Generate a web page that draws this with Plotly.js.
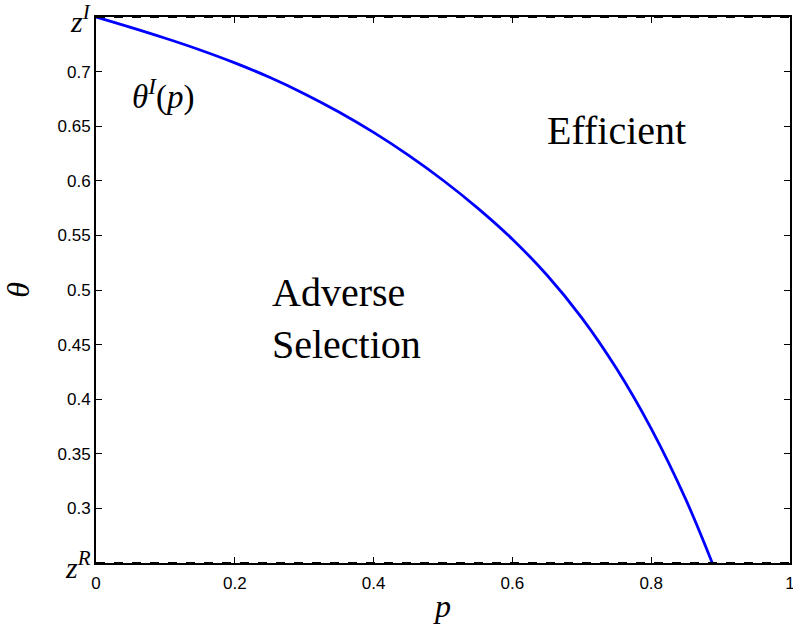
<!DOCTYPE html>
<html>
<head>
<meta charset="utf-8">
<script src="https://cdn.plot.ly/plotly-3.0.1.min.js"></script>
<style>html,body{margin:0;padding:0;background:#fff;}#chart{width:793px;height:628px;}</style>
</head>
<body>
<div id="chart"></div>
<script>
// Curve theta^I(p)
const pValues = [0, 0.05, 0.10, 0.15, 0.20, 0.25, 0.30, 0.35, 0.40, 0.45, 0.50, 0.55, 0.60, 0.65, 0.70, 0.75, 0.80, 0.85, 0.888];
const thetaValues = [0.75, 0.7405, 0.7305, 0.7198, 0.708, 0.6948, 0.6798, 0.663, 0.6443, 0.6235, 0.6005, 0.575, 0.5465, 0.5135, 0.4745, 0.428, 0.373, 0.308, 0.25];
// Reference levels (dashed lines) z^R and z^I
const zLevels = [0.25, 0.75];
const zLabels = ['<i>z</i><sup><i>R</i></sup>', '<i>z</i><sup><i>I</i></sup>'];
// Ticks
const xTickVals = [0, 0.2, 0.4, 0.6, 0.8, 1];
const xTickText = ['0', '0.2', '0.4', '0.6', '0.8', '1'];
const yTickVals = [0.3, 0.35, 0.4, 0.45, 0.5, 0.55, 0.6, 0.65, 0.7];
const yTickText = ['0.3', '0.35', '0.4', '0.45', '0.5', '0.55', '0.6', '0.65', '0.7'];

const serif = 'Liberation Serif, DejaVu Serif, serif';
const sans = 'Liberation Sans, Arial, sans-serif';

const traces = [{
  x: pValues, y: thetaValues, type: 'scatter', mode: 'lines',
  line: {color: '#0000ff', width: 2.8, shape: 'spline', smoothing: 1},
  hoverinfo: 'skip', showlegend: false
}];

const shapes = zLevels.map(z => ({
  type: 'line', xref: 'paper', yref: 'y', x0: 0, x1: 1, y0: z, y1: z,
  line: {color: '#000', width: 2, dash: 'dash'}, layer: 'above'
}));

const annotations = [
  {x: 0.049, y: 0.679, xref: 'x', yref: 'y', text: '<i>θ</i><sup><i>I</i></sup>(<i>p</i>)', showarrow: false,
   xanchor: 'left', yanchor: 'middle', font: {family: serif, size: 33, color: '#000'}},
  {x: 0.25, y: 0.474, xref: 'x', yref: 'y', text: 'Adverse<br>Selection', showarrow: false, align: 'left',
   xanchor: 'left', yanchor: 'middle', font: {family: serif, size: 40, color: '#000'}},
  {x: 0.647, y: 0.6465, xref: 'x', yref: 'y', text: 'Efficient', showarrow: false,
   xanchor: 'left', yanchor: 'middle', font: {family: serif, size: 40, color: '#000'}}
].concat(zLevels.map((z, i) => ({
  x: 0, y: z, xref: 'paper', yref: 'y', text: zLabels[i], showarrow: false,
  xanchor: 'right', yanchor: 'middle', xshift: -3, yshift: i === 0 ? -2 : -2,
  font: {family: serif, size: 30, color: '#000'}
})));

const layout = {
  width: 793, height: 628,
  margin: {l: 96, r: 3, t: 17, b: 65},
  paper_bgcolor: '#fff', plot_bgcolor: '#fff',
  showlegend: false,
  xaxis: {
    range: [0, 1], tickvals: xTickVals, ticktext: xTickText,
    ticks: 'inside', ticklen: 6, tickwidth: 1, tickcolor: '#000',
    showline: true, linecolor: '#000', linewidth: 2, mirror: 'ticks',
    showgrid: false, zeroline: false, ticklabeloverflow: 'allow',
    ticklabelstandoff: 4,
    tickfont: {family: sans, size: 17, color: '#000'},
    title: {text: '<i>p</i>', font: {family: serif, size: 32, color: '#000'}, standoff: 2}
  },
  yaxis: {
    range: [0.25, 0.75], tickvals: yTickVals, ticktext: yTickText,
    ticks: 'inside', ticklen: 6, tickwidth: 1, tickcolor: '#000',
    showline: true, linecolor: '#000', linewidth: 2, mirror: 'ticks',
    showgrid: false, zeroline: false,
    tickfont: {family: sans, size: 17, color: '#000'},
    title: {text: '<i>θ</i>', font: {family: serif, size: 32, color: '#000'}, standoff: 18}
  },
  shapes: shapes,
  annotations: annotations
};

Plotly.newPlot('chart', traces, layout, {staticPlot: true, displayModeBar: false});
</script>
</body>
</html>
